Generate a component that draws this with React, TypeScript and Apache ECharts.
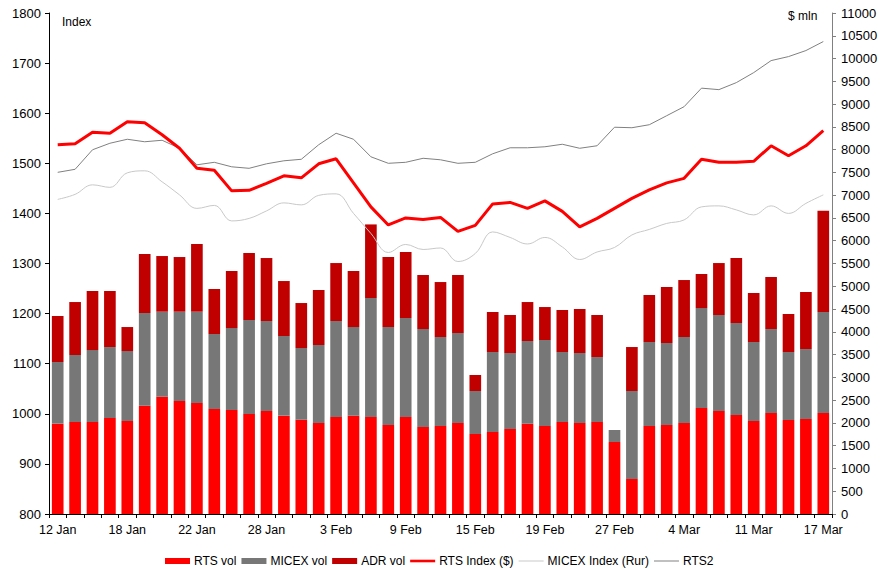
import React, { useEffect, useRef } from "react";
import * as echarts from "echarts";

const dates = ["12 Jan","13 Jan","14 Jan","15 Jan","18 Jan","19 Jan","20 Jan","21 Jan","22 Jan","25 Jan","26 Jan","27 Jan","28 Jan","29 Jan","1 Feb","2 Feb","3 Feb","4 Feb","5 Feb","8 Feb","9 Feb","10 Feb","11 Feb","12 Feb","15 Feb","16 Feb","17 Feb","18 Feb","19 Feb","24 Feb","25 Feb","26 Feb","27 Feb","1 Mar","2 Mar","3 Mar","4 Mar","5 Mar","9 Mar","10 Mar","11 Mar","12 Mar","15 Mar","16 Mar","17 Mar"];

const rtsVol = [1983,2020,2020,2108,2042,2378,2576,2481,2437,2305, 2283,2195,2261,2159,2071,1998,2130,2159,2130,1954, 2130,1910,1932,1998,1756,1800,1866,1983,1932,2020, 2000,2020,1581,768,1932,1954,1998,2327,2261,2173, 2042,2217,2064,2086,2217];
const micexVol = [1354,1471,1580,1558,1536,2035,1866,1961,2005,1647, 1800,2064,1976,1749,1573,1712,2107,1946,2612,2151, 2173,2151,1954,1976,944,1757,1669,1815,1888,1537, 1535,1426,263,1932,1844,1800,1888,2195,2108,2020, 1734,1844,1493,1536,2218];
const adrVol = [1010,1163,1296,1230,527,1295,1222,1200,1486,988, 1252,1471,1383,1207,988,1208,1273,1230,1616,1537, 1449,1186,1207,1273,352,878,834,856,724,922, 966,923,0,966,1032,1230,1251,747,1141,1427, 1076,1142,834,1252,2224];
const rtsIndex = [1537,1539,1562,1560,1583,1581,1557,1530,1490,1486, 1445,1446,1460,1475,1471,1499,1509,1461,1413,1377, 1391,1388,1392,1364,1376,1419,1422,1410,1425,1404, 1373,1390,1410,1430,1447,1461,1470,1508,1502,1502, 1504,1535,1515,1535,1565];
const micexIndex = [1428,1438,1457,1452,1481,1485,1463,1437,1410,1416, 1385,1390,1405,1421,1417,1436,1439,1400,1360,1322, 1338,1328,1331,1304,1320,1363,1352,1339,1352,1333, 1308,1323,1332,1357,1368,1380,1387,1413,1415,1407, 1397,1415,1400,1420,1437];
const rts2 = [1482,1488,1527,1540,1548,1543,1546,1530,1497,1502, 1493,1490,1499,1505,1508,1537,1560,1548,1513,1500, 1502,1510,1507,1500,1502,1519,1531,1531,1533,1538, 1530,1535,1572,1571,1577,1595,1613,1650,1647,1661, 1681,1705,1713,1725,1743];

const FONT = "'Liberation Sans', Arial, sans-serif";

export default function App() {
  const ref = useRef<HTMLDivElement>(null);
  useEffect(() => {
    document.body.style.margin = "0";
    if (!ref.current) return;
    const chart = echarts.init(ref.current, undefined, { renderer: "svg" });
    const barSeries = (name: string, data: number[], color: string) => ({
      name,
      type: "bar",
      stack: "vol",
      yAxisIndex: 1,
      data,
      barCategoryGap: "33%",
      itemStyle: { color },
    });
    const lineSeries = (name: string, data: number[], color: string, width: number, smooth: boolean | number) => ({
      name,
      type: "line",
      yAxisIndex: 0,
      data,
      symbol: "none",
      smooth,
      lineStyle: { color, width },
      itemStyle: { color },
    });
    const plain = (v: number) => String(v);
    chart.setOption({
      animation: false,
      textStyle: { fontFamily: FONT, color: "#000" },
      grid: { left: 49, right: 50, top: 13, bottom: 55 },
      legend: {
        left: 165,
        top: 555,
        padding: 0,
        itemWidth: 25,
        itemHeight: 6,
        itemGap: 5,
        textStyle: { fontFamily: FONT, fontSize: 12, color: "#000", padding: [0, 0, 0, -1] },
        data: [
          { name: "RTS vol", icon: "rect" },
          { name: "MICEX vol", icon: "rect" },
          { name: "ADR vol", icon: "rect" },
          { name: "RTS Index ($)", icon: "path://M0,0 H25 V2.6 H0 Z" },
          { name: "MICEX Index (Rur)", icon: "path://M0,0 H25 V1 H0 Z" },
          { name: "RTS2", icon: "path://M0,0 H25 V1 H0 Z" },
        ],
      },
      graphic: [
        { type: "text", left: 62, top: 16, style: { text: "Index", fontFamily: FONT, fontSize: 12, fill: "#000" } },
        { type: "text", left: 788, top: 10, style: { text: "$ mln", fontFamily: FONT, fontSize: 12, fill: "#000" } },
      ],
      xAxis: {
        type: "category",
        data: dates,
        boundaryGap: true,
        axisLine: { lineStyle: { color: "#000", width: 1 } },
        axisTick: { show: true, interval: 0, length: 4, lineStyle: { color: "#000" } },
        axisLabel: { interval: 3, fontSize: 12.5, color: "#000", margin: 9, fontFamily: FONT },
        splitLine: { show: false },
      },
      yAxis: [
        {
          type: "value",
          min: 800,
          max: 1800,
          interval: 100,
          position: "left",
          axisLine: { show: true, lineStyle: { color: "#000" } },
          axisTick: { show: true, length: 4, lineStyle: { color: "#000" } },
          axisLabel: { fontSize: 13, color: "#000", margin: 8, fontFamily: FONT, formatter: plain },
          splitLine: { show: false },
        },
        {
          type: "value",
          min: 0,
          max: 11000,
          interval: 500,
          position: "right",
          axisLine: { show: true, lineStyle: { color: "#808080" } },
          axisTick: { show: true, length: 4, lineStyle: { color: "#808080" } },
          axisLabel: { fontSize: 13, color: "#000", margin: 9, fontFamily: FONT, formatter: plain },
          splitLine: { show: false },
        },
      ],
      series: [
        barSeries("RTS vol", rtsVol, "#FF0000"),
        barSeries("MICEX vol", micexVol, "#777777"),
        barSeries("ADR vol", adrVol, "#C00000"),
        lineSeries("MICEX Index (Rur)", micexIndex, "#C8C8C8", 1, 0.4),
        lineSeries("RTS2", rts2, "#808080", 1, false),
        lineSeries("RTS Index ($)", rtsIndex, "#FF0000", 3, false),
      ],
    });
    return () => chart.dispose();
  }, []);
  return <div ref={ref} style={{ width: 882, height: 569 }} />;
}
